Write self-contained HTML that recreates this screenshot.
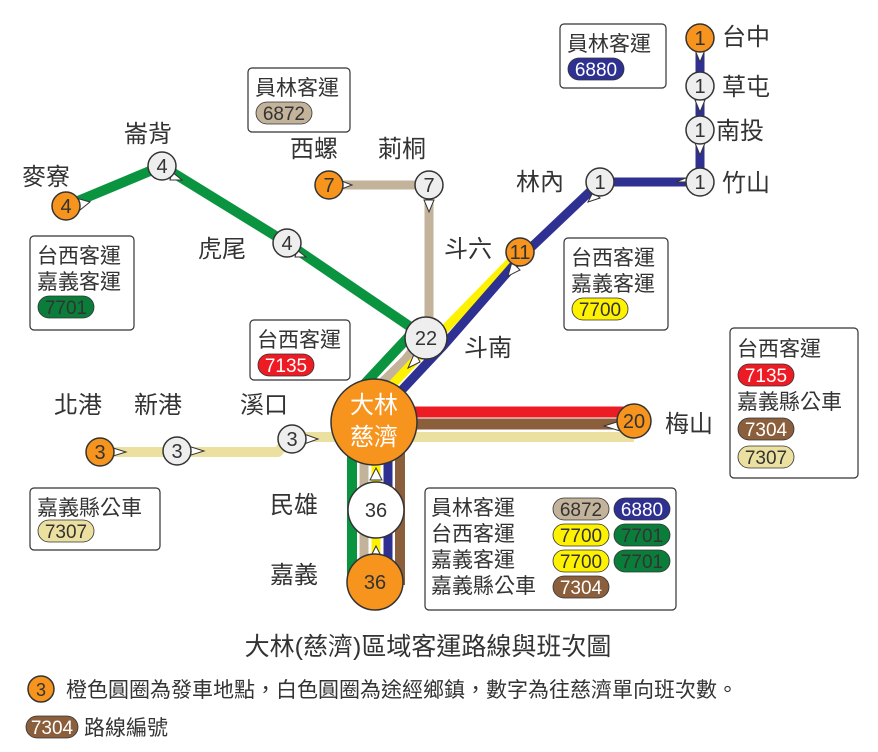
<!DOCTYPE html>
<html><head><meta charset="utf-8"><style>
body{margin:0;background:#fff}
svg{display:block}
text{font-family:"Liberation Sans","Noto Sans CJK TC",sans-serif;fill:#333}
</style></head><body>
<svg width="878" height="752" viewBox="0 0 878 752" xmlns="http://www.w3.org/2000/svg">
<g fill="none" stroke-linejoin="round">
<polyline points="66,206 162,166 287,243 415,330 357,392 352,410 352,585" stroke="#0a9440" stroke-width="10"/>
<polyline points="329,185 429,185 429,330 405,360 364,400 364,585" stroke="#c3b39a" stroke-width="9"/>
<polyline points="520,252 436,338 392,385 376,400 376,585" stroke="#fff200" stroke-width="9"/>
<polyline points="700,38 700,182 600,182 520,258 444,345 400,392 388,410 388,585" stroke="#2e3192" stroke-width="9"/>
<polyline points="400,424 634,424" stroke="#8b5e3c" stroke-width="11"/>
<polyline points="400,430 400,585" stroke="#8b5e3c" stroke-width="10"/>
<line x1="400" y1="412" x2="634" y2="412" stroke="#ed1c24" stroke-width="11"/>
<polyline points="100,452 278,452 290,437 634,437" stroke="#ece0a0" stroke-width="10"/>
</g>
<g fill="#fff" stroke="#333" stroke-width="1">
<polygon points="76,198 90,202 80,210"/>
<polygon points="172,172 182,180 170,180"/>
<polygon points="297,250 306,257 295,257"/>
<polygon points="339,180 352,185 339,190"/>
<polygon points="424,200 429,212 434,200"/>
<polygon points="110,447 126,452 110,457"/>
<polygon points="188,446 204,451 188,456"/>
<polygon points="304,434 318,439 304,444"/>
<polygon points="620,421 604,426 620,431"/>
<polygon points="415,352 408,368 420,362"/>
<polygon points="370,480 376,468 382,480"/>
<polygon points="370,558 376,546 382,558"/>
<polygon points="512,262 508,276 520,270"/>
<polygon points="593,192 588,202 600,198"/>
<polygon points="688,182 676,182 688,177" />
<polygon points="695,50 700,62 705,50"/>
<polygon points="695,100 700,112 705,100"/>
<polygon points="695,143 700,155 705,143"/>
</g>
<g stroke="#333" stroke-width="1.5">
<circle cx="66" cy="206" r="14" fill="#f7941d"/>
<circle cx="162" cy="166" r="14" fill="#eee"/>
<circle cx="287" cy="243" r="14" fill="#eee"/>
<circle cx="329" cy="185" r="14" fill="#f7941d"/>
<circle cx="429" cy="185" r="14" fill="#eee"/>
<circle cx="520" cy="252" r="14" fill="#f7941d"/>
<circle cx="600" cy="182" r="14" fill="#eee"/>
<circle cx="700" cy="182" r="14" fill="#eee"/>
<circle cx="700" cy="130" r="14" fill="#eee"/>
<circle cx="700" cy="86" r="14" fill="#eee"/>
<circle cx="700" cy="38" r="14" fill="#f7941d"/>
<circle cx="426" cy="338" r="21" fill="#eee"/>
<circle cx="100" cy="452" r="14" fill="#f7941d"/>
<circle cx="177" cy="451" r="14" fill="#eee"/>
<circle cx="292" cy="439" r="14" fill="#eee"/>
<circle cx="634" cy="421" r="17" fill="#f7941d"/>
<circle cx="374" cy="422" r="43" fill="#f7941d"/>
<circle cx="376" cy="510" r="28" fill="#fff"/>
<circle cx="375" cy="582" r="28" fill="#f7941d"/>
</g>
<g font-size="20" text-anchor="middle">
<text x="66" y="213">4</text><text x="162" y="173">4</text><text x="287" y="250">4</text>
<text x="329" y="192">7</text><text x="429" y="192">7</text><text x="520" y="259">11</text>
<text x="600" y="189">1</text><text x="700" y="189">1</text><text x="700" y="137">1</text>
<text x="700" y="93">1</text><text x="700" y="45">1</text>
<text x="426" y="345">22</text>
<text x="100" y="459">3</text><text x="177" y="458">3</text><text x="292" y="446">3</text>
<text x="634" y="428">20</text>
<text x="376" y="517">36</text><text x="375" y="589">36</text>
<text x="374" y="413" font-size="24" style="fill:#fff">大林</text>
<text x="374" y="445" font-size="24" style="fill:#fff">慈濟</text>
</g>
<g font-size="24">
<text x="22" y="185">麥寮</text><text x="124" y="142">崙背</text><text x="198" y="257">虎尾</text>
<text x="290" y="157">西螺</text><text x="378" y="157">莿桐</text><text x="444" y="257">斗六</text>
<text x="464" y="356">斗南</text><text x="516" y="190">林內</text>
<text x="722" y="45">台中</text><text x="722" y="95">草屯</text><text x="716" y="139">南投</text><text x="722" y="191">竹山</text>
<text x="54" y="413">北港</text><text x="134" y="413">新港</text><text x="240" y="413">溪口</text>
<text x="665" y="432">梅山</text>
<text x="270" y="513">民雄</text><text x="270" y="583">嘉義</text>
</g>
<g fill="#fff" stroke="#333" stroke-width="1.2">
<rect x="248" y="68" width="102" height="64" rx="4"/>
<rect x="560" y="24" width="106" height="64" rx="4"/>
<rect x="30" y="236" width="104" height="94" rx="4"/>
<rect x="250" y="320" width="100" height="60" rx="4"/>
<rect x="564" y="238" width="104" height="92" rx="4"/>
<rect x="730" y="328" width="128" height="150" rx="4"/>
<rect x="30" y="488" width="130" height="62" rx="4"/>
<rect x="425" y="488" width="251" height="122" rx="4"/>
</g>
<g font-size="21">
<text x="255" y="95">員林客運</text>
<text x="567" y="51">員林客運</text>
<text x="37" y="263">台西客運</text><text x="37" y="289">嘉義客運</text>
<text x="257" y="347">台西客運</text>
<text x="571" y="265">台西客運</text><text x="571" y="291">嘉義客運</text>
<text x="737" y="356">台西客運</text><text x="737" y="409">嘉義縣公車</text>
<text x="37" y="515">嘉義縣公車</text>
<text x="431" y="515">員林客運</text><text x="431" y="541">台西客運</text><text x="431" y="567">嘉義客運</text><text x="431" y="593">嘉義縣公車</text>
</g>
<g stroke="#333" stroke-width="0.8">
<rect x="256" y="102" width="56" height="22" rx="11" fill="#c3b39a"/>
<rect x="568" y="58" width="56" height="22" rx="11" fill="#2e3192"/>
<rect x="38" y="296" width="56" height="22" rx="11" fill="#0a7d3a"/>
<rect x="258" y="354" width="56" height="22" rx="11" fill="#ed1c24"/>
<rect x="572" y="298" width="56" height="22" rx="11" fill="#fff200"/>
<rect x="738" y="364" width="56" height="22" rx="11" fill="#ed1c24"/>
<rect x="738" y="418" width="56" height="22" rx="11" fill="#8b5e3c"/>
<rect x="738" y="446" width="56" height="22" rx="11" fill="#ece0a0"/>
<rect x="38" y="520" width="56" height="22" rx="11" fill="#ece0a0"/>
<rect x="553" y="498" width="56" height="22" rx="11" fill="#c3b39a"/>
<rect x="614" y="498" width="56" height="22" rx="11" fill="#2e3192"/>
<rect x="553" y="524" width="56" height="22" rx="11" fill="#fff200"/>
<rect x="614" y="524" width="56" height="22" rx="11" fill="#0a7d3a"/>
<rect x="553" y="550" width="56" height="22" rx="11" fill="#fff200"/>
<rect x="614" y="550" width="56" height="22" rx="11" fill="#0a7d3a"/>
<rect x="553" y="576" width="56" height="22" rx="11" fill="#8b5e3c"/>
<rect x="26" y="716" width="52" height="22" rx="11" fill="#8b5e3c"/>
</g>
<g font-size="19" text-anchor="middle">
<text x="284" y="120">6872</text>
<text x="596" y="76" style="fill:#fff">6880</text>
<text x="66" y="314">7701</text>
<text x="286" y="372" style="fill:#fff">7135</text>
<text x="600" y="316">7700</text>
<text x="766" y="382" style="fill:#fff">7135</text>
<text x="766" y="436" style="fill:#fff">7304</text>
<text x="766" y="464">7307</text>
<text x="66" y="538">7307</text>
<text x="581" y="516">6872</text><text x="642" y="516" style="fill:#fff">6880</text>
<text x="581" y="542">7700</text><text x="642" y="542">7701</text>
<text x="581" y="568">7700</text><text x="642" y="568">7701</text>
<text x="581" y="594" style="fill:#fff">7304</text>
<text x="52" y="734" style="fill:#fff">7304</text>
</g>
<text x="428" y="655" font-size="25" text-anchor="middle">大林(慈濟)區域客運路線與班次圖</text>
<circle cx="41" cy="689" r="13" fill="#f7941d" stroke="#333" stroke-width="1.5"/>
<text x="41" y="696" font-size="18" text-anchor="middle">3</text>
<text x="66" y="697" font-size="21">橙色圓圈為發車地點，白色圓圈為途經鄉鎮，數字為往慈濟單向班次數。</text>
<text x="84" y="735" font-size="21">路線編號</text>
</svg>
</body></html>
